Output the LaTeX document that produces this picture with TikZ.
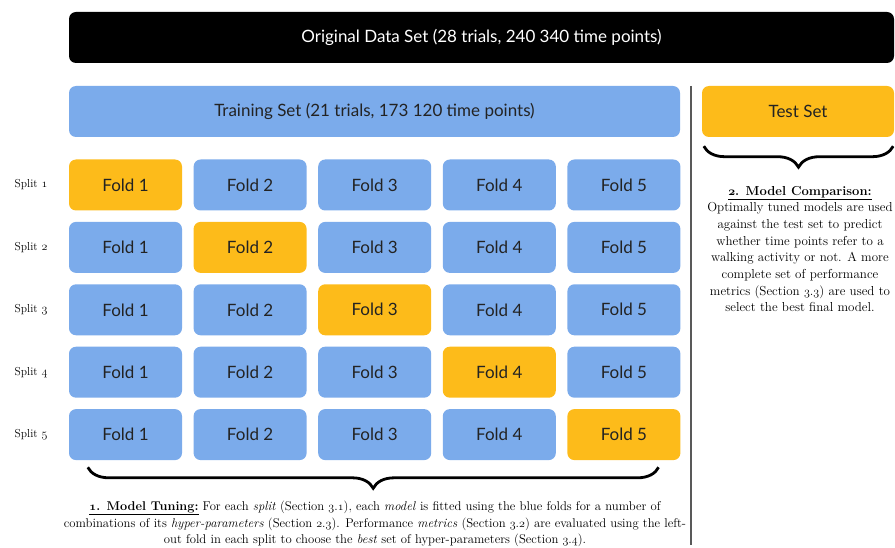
\documentclass[tikz,border=0pt]{standalone}
\usepackage{fontspec}
\usetikzlibrary{decorations.pathreplacing}
\newfontfamily\boxfont{Lato}
% old style figures for the captions
\newcommand{\osf}[1]{{\fontencoding{OML}\fontfamily{cmm}\fontshape{it}\selectfont #1}}
\definecolor{foldblue}{RGB}{123,171,235}
\definecolor{foldorange}{RGB}{253,187,26}
\definecolor{boxtext}{RGB}{35,35,35}
\tikzset{
    blk/.style={rounded corners=7pt, minimum height=51pt, inner sep=0pt,
        font=\boxfont\fontsize{17}{20}\selectfont, text=boxtext},
    fold/.style={blk, fill=foldblue, minimum width=113pt},
    heldout/.style={blk, fill=foldorange, minimum width=113pt},
    splitlab/.style={font=\fontsize{11.5}{14}\selectfont},
    bigbrace/.style={decorate, decoration={brace, amplitude=21pt, aspect=0.5},
        line width=2.8pt},
    caption/.style={align=center, text=black}
}
\begin{document}
\begin{tikzpicture}[x=1pt,y=-1pt]
    		\newcommand{\xorig}{125.5}
    		\newcommand{\xtrans}{124.6}
    		\newcommand{\ytop}{185}
    		\newcommand{\vertspac}{62.4}

    		\useasboundingbox (0,0) rectangle (895,548);

    		% data sets
        	\node[blk, fill=black, text=white, minimum width=825pt] (data) at (481.5,37.5) {Original Data Set (28 trials, 240 340 time points)};
        	\node[blk, fill=foldblue, minimum width=611pt] (train) at (374.5,111.5) {Training Set (21 trials, 173 120 time points)};
        	\node[blk, fill=foldorange, minimum width=192pt] (test) at (798,111.5) {Test Set};

    		% separator
        	\draw[line width=1.3pt, black!65] (691,86) -- (691,545);

    		% split 1
		    \node[splitlab] (s1) at (31,\ytop+0*\vertspac) {Split \osf{1}};
		    \node[heldout] (f11) at (\xorig+0*\xtrans,\ytop+0*\vertspac) {Fold 1};
		    \node[fold] (f12) at (\xorig+1*\xtrans,\ytop+0*\vertspac) {Fold 2};
		    \node[fold] (f13) at (\xorig+2*\xtrans,\ytop+0*\vertspac) {Fold 3};
		    \node[fold] (f14) at (\xorig+3*\xtrans,\ytop+0*\vertspac) {Fold 4};
		    \node[fold] (f15) at (\xorig+4*\xtrans,\ytop+0*\vertspac) {Fold 5};

    		% split 2
		    \node[splitlab] (s2) at (31,\ytop+1*\vertspac) {Split \osf{2}};
		    \node[fold] (f21) at (\xorig+0*\xtrans,\ytop+1*\vertspac) {Fold 1};
		    \node[heldout] (f22) at (\xorig+1*\xtrans,\ytop+1*\vertspac) {Fold 2};
		    \node[fold] (f23) at (\xorig+2*\xtrans,\ytop+1*\vertspac) {Fold 3};
		    \node[fold] (f24) at (\xorig+3*\xtrans,\ytop+1*\vertspac) {Fold 4};
		    \node[fold] (f25) at (\xorig+4*\xtrans,\ytop+1*\vertspac) {Fold 5};

    		% split 3
		    \node[splitlab] (s3) at (31,\ytop+2*\vertspac) {Split \osf{3}};
		    \node[fold] (f31) at (\xorig+0*\xtrans,\ytop+2*\vertspac) {Fold 1};
		    \node[fold] (f32) at (\xorig+1*\xtrans,\ytop+2*\vertspac) {Fold 2};
		    \node[heldout] (f33) at (\xorig+2*\xtrans,\ytop+2*\vertspac) {Fold 3};
		    \node[fold] (f34) at (\xorig+3*\xtrans,\ytop+2*\vertspac) {Fold 4};
		    \node[fold] (f35) at (\xorig+4*\xtrans,\ytop+2*\vertspac) {Fold 5};

    		% split 4
		    \node[splitlab] (s4) at (31,\ytop+3*\vertspac) {Split \osf{4}};
		    \node[fold] (f41) at (\xorig+0*\xtrans,\ytop+3*\vertspac) {Fold 1};
		    \node[fold] (f42) at (\xorig+1*\xtrans,\ytop+3*\vertspac) {Fold 2};
		    \node[fold] (f43) at (\xorig+2*\xtrans,\ytop+3*\vertspac) {Fold 3};
		    \node[heldout] (f44) at (\xorig+3*\xtrans,\ytop+3*\vertspac) {Fold 4};
		    \node[fold] (f45) at (\xorig+4*\xtrans,\ytop+3*\vertspac) {Fold 5};

    		% split 5
		    \node[splitlab] (s5) at (31,\ytop+4*\vertspac) {Split \osf{5}};
		    \node[fold] (f51) at (\xorig+0*\xtrans,\ytop+4*\vertspac) {Fold 1};
		    \node[fold] (f52) at (\xorig+1*\xtrans,\ytop+4*\vertspac) {Fold 2};
		    \node[fold] (f53) at (\xorig+2*\xtrans,\ytop+4*\vertspac) {Fold 3};
		    \node[fold] (f54) at (\xorig+3*\xtrans,\ytop+4*\vertspac) {Fold 4};
		    \node[heldout] (f55) at (\xorig+4*\xtrans,\ytop+4*\vertspac) {Fold 5};

    		% braces
        	\draw[bigbrace] ([xshift=-22pt,yshift=-7pt]f55.south east) -- ([xshift=19pt,yshift=-7pt]f51.south west);
        	\draw[bigbrace] ([xshift=-1pt,yshift=-9pt]test.south east) -- ([xshift=2pt,yshift=-9pt]test.south west);

    		% captions
        	\node[caption, font=\fontsize{12.7}{16.5}\selectfont] (tuning) at (375,524) {\underline{\textbf{\osf{1}. Model Tuning:}} For each \textit{split} (Section \osf{3}.\osf{1}), each \textit{model} is fitted using the blue folds for a number of\\
        	combinations of its \textit{hyper-parameters} (Section \osf{2}.\osf{3}). Performance \textit{metrics} (Section \osf{3}.\osf{2}) are evaluated using the left-\\
        	out fold in each split to choose the \textit{best} set of hyper-parameters (Section \osf{3}.\osf{4}).};
        	\node[caption, font=\fontsize{13}{16.7}\selectfont] (comparison) at (800,249) {\underline{\textbf{\osf{2}. Model Comparison:}}\\
        	Optimally tuned models are used\\
        	against the test set to predict\\
        	whether time points refer to a\\
        	walking activity or not. A more\\
        	complete set of performance\\
        	metrics (Section \osf{3}.\osf{3}) are used to\\
        	select the best final model.};

\end{tikzpicture}
\end{document}
